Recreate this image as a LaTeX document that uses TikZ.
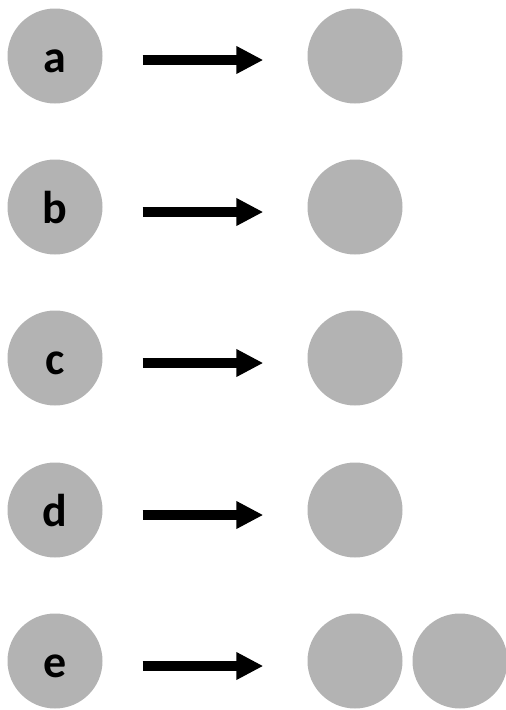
\documentclass[tikz,border=0pt]{standalone}
\usepackage{fontspec}
\setmainfont{Carlito}
\usepackage{tikz}
\usetikzlibrary{arrows.meta}

\definecolor{ballgray}{RGB}{179,179,179}
\tikzset{
  ball/.style={circle, fill=ballgray, minimum size=95pt, inner sep=0pt,
    font=\bfseries\fontsize{46}{46}\selectfont, text height=32pt, text depth=0pt},
  maps/.style={-{Triangle[length=27pt,width=26pt]}, line width=10pt,
    shorten <=40pt, shorten >=44pt}
}

\begin{document}
\begin{tikzpicture}[x=1pt,y=-1pt]
\useasboundingbox (0,0) rectangle (506,710);
\node[ball] (A) at (55,56) {a};
\node[ball] (A2) at (355,56) {};
\node[ball] (B) at (55,207) {b};
\node[ball] (B2) at (355,207) {};
\node[ball] (C) at (55,358) {c};
\node[ball] (C2) at (355,358) {};
\node[ball] (D) at (55,510) {d};
\node[ball] (D2) at (355,510) {};
\node[ball] (E) at (55,661) {e};
\node[ball] (E2) at (355,661) {};
\node[ball] (E3) at (460,661) {};
\draw [maps] ([yshift=-4pt]A.east) -- ([yshift=-4pt]A2.west);
\draw [maps] ([yshift=-5pt]B.east) -- ([yshift=-5pt]B2.west);
\draw [maps] ([yshift=-5pt]C.east) -- ([yshift=-5pt]C2.west);
\draw [maps] ([yshift=-5pt]D.east) -- ([yshift=-5pt]D2.west);
\draw [maps] ([yshift=-5pt]E.east) -- ([yshift=-5pt]E2.west);
\end{tikzpicture}
\end{document}
